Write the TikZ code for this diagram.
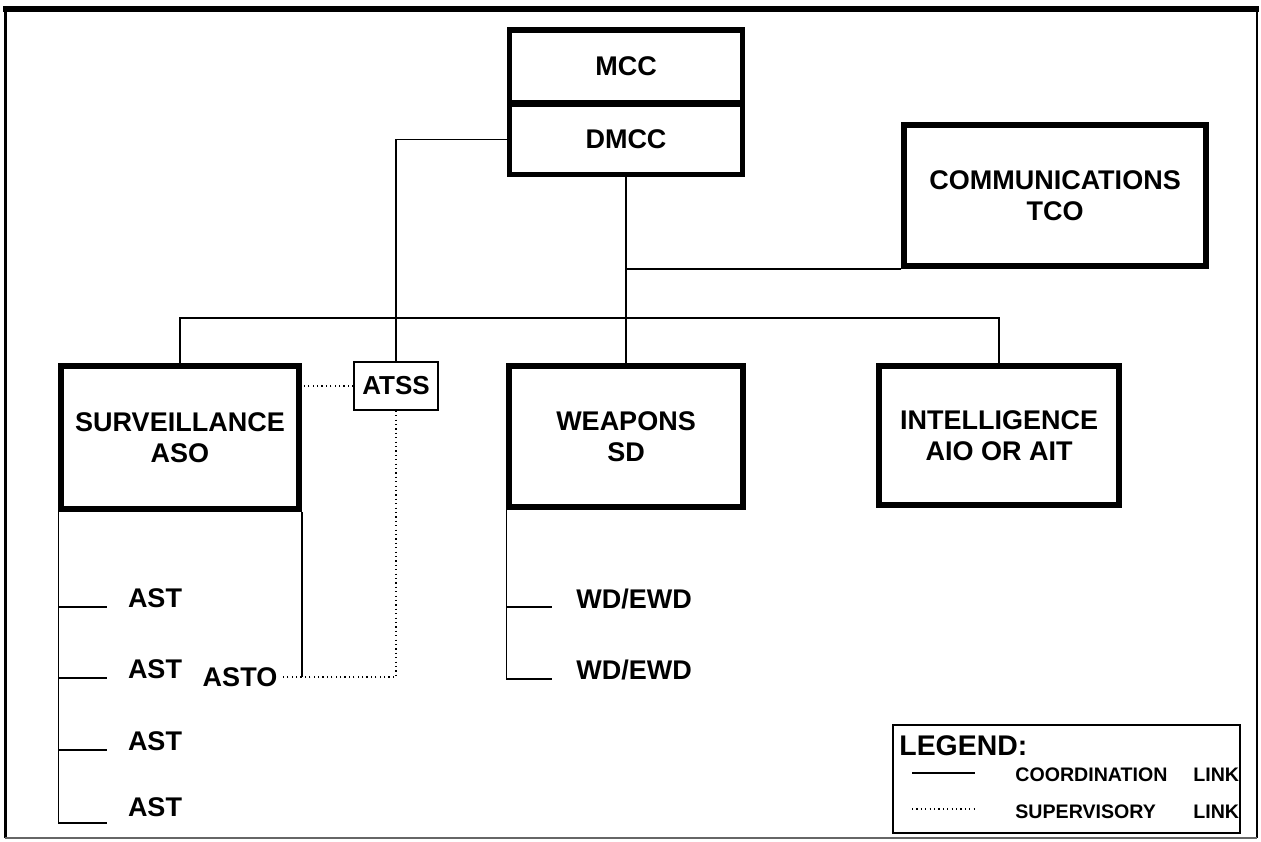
\documentclass[tikz,border=0pt]{standalone}
\usepackage{fontspec}
\setmainfont{Liberation Sans}
\usepackage{tikz}

\tikzset{
  unitbox/.style={draw,line width=2.8pt,inner sep=0pt,align=center,
    font=\bfseries\fontsize{13.5}{15.5}\selectfont},
  smallbox/.style={draw,line width=0.7pt,inner sep=0pt,
    font=\bfseries\fontsize{13}{15}\selectfont},
  posn/.style={inner sep=2pt,font=\bfseries\fontsize{13.5}{15}\selectfont},
  legtxt/.style={inner sep=0pt,font=\bfseries\fontsize{9.8}{11}\selectfont},
  coord/.style={line width=0.7pt},
  super/.style={line width=0.7pt,dash pattern=on 0.6pt off 1.6pt},
}

\begin{document}
\begin{tikzpicture}[x=0.5pt,y=-0.5pt]
  \useasboundingbox (0,0) rectangle (1261,841);
  % page frame
  \draw[line width=3pt] (3,9) -- (1259,9);
  \draw[line width=1.5pt] (5,9) -- (5,838);
  \draw[line width=1pt] (1257,9) -- (1257,838);
  \draw[line width=0.6pt,black!60] (5,838) -- (1257,838);

  % unit boxes
  \node[unitbox,minimum width=116.5pt,minimum height=36.5pt] (mcc) at (626,66.5) {MCC};
  \node[unitbox,minimum width=116.5pt,minimum height=35pt] (dmcc) at (626,139.5) {DMCC};
  \node[unitbox,minimum width=151pt,minimum height=70.5pt] (comm) at (1055,195.5) {COMMUNICATIONS\\TCO};
  \node[unitbox,minimum width=119pt,minimum height=71.5pt] (surv) at (180,437.5) {SURVEILLANCE\\ASO};
  \node[unitbox,minimum width=117pt,minimum height=70.5pt] (weap) at (626,436.5) {WEAPONS\\SD};
  \node[unitbox,minimum width=120pt,minimum height=69.5pt] (intel) at (999,435.5) {INTELLIGENCE\\AIO OR AIT};
  \node[smallbox,minimum width=42pt,minimum height=24pt] (atss) at (396,386) {ATSS};

  % positions
  \node[posn] (ast1) at (155,598) {AST};
  \node[posn] (ast2) at (155,669) {AST};
  \node[posn] (ast3) at (155,741) {AST};
  \node[posn] (ast4) at (155,807) {AST};
  \node[posn] (asto) at (240,677) {ASTO};
  \node[posn] (wd1) at (634,599) {WD/EWD};
  \node[posn] (wd2) at (634,670) {WD/EWD};
  \coordinate (tick1) at (107,607);
  \coordinate (tick2) at (107,678);
  \coordinate (tick3) at (107,750);
  \coordinate (tick4) at (107,823);
  \coordinate (wtick1) at (552,607);
  \coordinate (wtick2) at (552,679);
  \coordinate (bus) at (626,318);

  % coordination links
  \draw[coord] (dmcc.south) -- (weap.north);
  \draw[coord] (dmcc.south |- comm.south) -- (comm.south west);
  \draw[coord] (surv.north) |- (bus) -| (intel.north);
  \draw[coord] (dmcc.west) -| (atss.north);
  \draw[coord] (surv.south west) |- (tick4);
  \foreach \i in {1,2,3}
    \draw[coord] (surv.south west |- tick\i) -- (tick\i);
  \draw[coord] (surv.south east) -- (surv.south east |- asto.east);
  \draw[coord] (weap.south west) |- (wtick2);
  \draw[coord] (weap.south west |- wtick1) -- (wtick1);

  % supervisory links
  \draw[super] (atss.west) -- (surv.east |- atss.west);
  \draw[super] (atss.south) |- (asto.east);

  % legend
  \node[draw,line width=0.6pt,minimum width=173.5pt,minimum height=54pt] (legend) at (1066.5,779) {};
  \node[anchor=west,inner sep=0pt,font=\bfseries\fontsize{14.2}{16}\selectfont] (legtitle) at (899,746) {LEGEND:};
  \node[legtxt,anchor=west] (coordtxt) at (1015,775) {COORDINATION};
  \node[legtxt,anchor=west] (coordlink) at (1193,775) {LINK};
  \node[legtxt,anchor=west] (supertxt) at (1015,812) {SUPERVISORY};
  \node[legtxt,anchor=west] (superlink) at (1193,812) {LINK};
  \draw[coord] (912,773) -- (975,773);
  \draw[super] (912,809) -- (975,809);
\end{tikzpicture}
\end{document}
